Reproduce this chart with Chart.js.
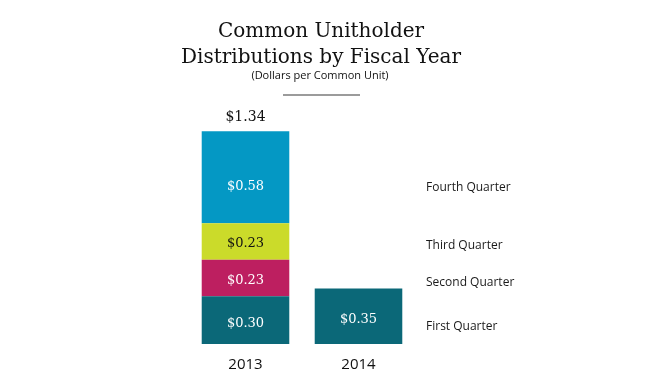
<!DOCTYPE html>
<html>
<head>
<meta charset="utf-8">
<script src="https://cdn.jsdelivr.net/npm/chart.js@4"></script>
<style>
  html, body { margin: 0; padding: 0; background: #ffffff; }
  #wrap { width: 650px; height: 388px; position: relative; }
</style>
</head>
<body>
<div id="wrap"><canvas id="chart"></canvas></div>
<script>
// data
var years = ['2013', '2014'];
var quarterNames = ['First Quarter', 'Second Quarter', 'Third Quarter', 'Fourth Quarter'];
var firstQuarter = [0.30, 0.35];
var secondQuarter = [0.23, null];
var thirdQuarter = [0.23, null];
var fourthQuarter = [0.58, null];
var totalLabels = ['$1.34', ''];

var titleLines = ['Common Unitholder', 'Distributions by Fiscal Year'];
var subTitle = '(Dollars per Common Unit)';

var barColors = ['#0b6878', '#bd1f60', '#cbdb2a', '#0498c4'];
var valueColors = ['#ffffff', '#ffffff', '#111111', '#ffffff'];

var serif = '"DejaVu Serif", Georgia, serif';
var sans = '"Open Sans", "Noto Sans", sans-serif';

// draws title, value labels, total and the quarter names on the right
var annotate = {
    id: 'annotate',
    afterDraw: function (chart) {
        var ctx = chart.ctx;
        ctx.save();

        // title
        ctx.fillStyle = '#111111';
        ctx.textAlign = 'center';
        ctx.textBaseline = 'alphabetic';
        ctx.font = '20px ' + serif;
        ctx.fillText(titleLines[0], 321, 37);
        ctx.fillText(titleLines[1], 321, 63);
        ctx.font = '11px ' + sans;
        ctx.fillText(subTitle, 320, 79);

        ctx.strokeStyle = '#7a7a7a';
        ctx.lineWidth = 1.5;
        ctx.beginPath();
        ctx.moveTo(283, 95);
        ctx.lineTo(360, 95);
        ctx.stroke();

        // values inside the segments
        var shift = [3, 3, 2, 9];
        ctx.font = '13px ' + serif;
        ctx.textBaseline = 'middle';
        chart.data.datasets.forEach(function (ds, i) {
            var meta = chart.getDatasetMeta(i);
            meta.data.forEach(function (bar, j) {
                var v = ds.data[j];
                if (v === null) return;
                var mid = (bar.y + bar.base) / 2;
                ctx.fillStyle = valueColors[i];
                ctx.fillText('$' + v.toFixed(2), bar.x, mid + shift[i]);
            });
        });

        // total above the stack
        var top = chart.getDatasetMeta(3).data[0];
        ctx.fillStyle = '#111111';
        ctx.font = '14px ' + serif;
        ctx.fillText(totalLabels[0], top.x, top.y - 14);

        // quarter names next to the 2013 stack
        var nameShift = [6, 5, 4, 10];
        ctx.textAlign = 'left';
        ctx.font = '12px ' + sans;
        ctx.fillStyle = '#1a1a1a';
        quarterNames.forEach(function (name, i) {
            var bar = chart.getDatasetMeta(i).data[0];
            var mid = (bar.y + bar.base) / 2;
            ctx.fillText(name, 426, mid + nameShift[i]);
        });

        ctx.restore();
    }
};

var seriesList = [firstQuarter, secondQuarter, thirdQuarter, fourthQuarter];
var datasets = seriesList.map(function (values, i) {
    return {
        label: quarterNames[i],
        data: values,
        backgroundColor: barColors[i],
        borderWidth: 0,
        barPercentage: 0.775,
        categoryPercentage: 1.0
    };
});

var ctx = document.getElementById('chart').getContext('2d');
var chart = new Chart(ctx, {
    type: 'bar',
    data: { labels: years, datasets: datasets },
    options: {
        responsive: true,
        maintainAspectRatio: false,
        animation: false,
        layout: {
            padding: { top: 100, left: 189, right: 235, bottom: 2 }
        },
        scales: {
            x: {
                stacked: true,
                grid: { display: false, drawTicks: false },
                border: { display: false },
                ticks: {
                    color: '#111111',
                    font: { family: sans, size: 15 },
                    padding: 12
                }
            },
            y: {
                stacked: true,
                display: false,
                min: 0,
                max: 1.536
            }
        },
        plugins: {
            legend: { display: false },
            tooltip: { enabled: false }
        }
    },
    plugins: [annotate]
});
</script>
</body>
</html>
